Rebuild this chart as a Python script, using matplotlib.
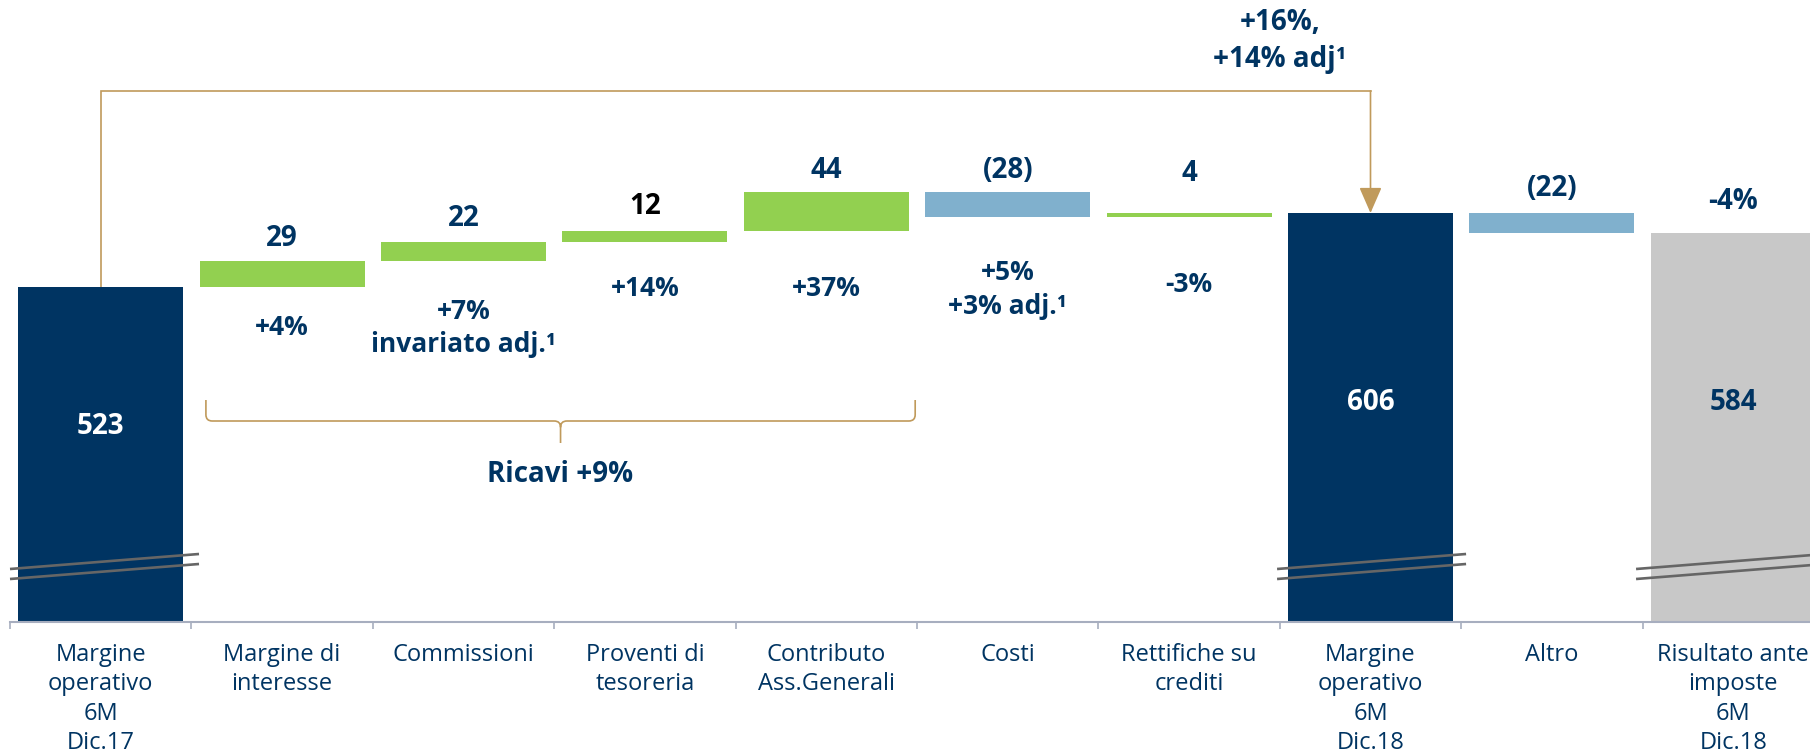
import matplotlib
matplotlib.use("Agg")
import matplotlib.pyplot as plt
from matplotlib.path import Path
from matplotlib.patches import PathPatch
import numpy as np

# ---------------- data ----------------
categories = [
    "Margine\noperativo\n6M\nDic.17",
    "Margine di\ninteresse",
    "Commissioni",
    "Proventi di\ntesoreria",
    "Contributo\nAss.Generali",
    "Costi",
    "Rettifiche su\ncrediti",
    "Margine\noperativo\n6M\nDic.18",
    "Altro",
    "Risultato ante\nimposte\n6M\nDic.18",
]
values = [523, 29, 22, 12, 44, -28, 4, 606, -22, 584]
is_total = [True, False, False, False, False, False, False, True, False, True]
value_labels = ["523", "29", "22", "12", "44", "(28)", "4", "606", "(22)", "584"]
growth_labels = [[], ["+4%"], ["+7%", "invariato adj.\u00b9"], ["+14%"], ["+37%"],
                 ["+5%", "+3% adj.\u00b9"], ["-3%"], [], [], []]
final_change = "-4%"
top_growth = ["+16%,", "+14% adj\u00b9"]
brace_label = "Ricavi +9%"

# ---------------- style / layout ----------------
NAVY = "#003462"
GREEN = "#92D050"
LBLUE = "#80B0CD"
GREY = "#C8C8C8"
GOLD = "#C09A5B"
AXIS = "#A7AEBF"
BREAK = "#666666"
FONT = "Open Sans"

W, H = 1810, 752
AX_BOTTOM_PX = 622          # pixel row of the x axis
PX_PER_UNIT = 0.8916
Y0 = 147.3                  # value at the (broken) axis
YTOP = Y0 + AX_BOTTOM_PX / PX_PER_UNIT

def ypx(py):
    """pixel row (from top) -> data value"""
    return Y0 + (AX_BOTTOM_PX - py) / PX_PER_UNIT

PT = 0.72  # points per pixel at dpi=100

fig = plt.figure(figsize=(W / 100, H / 100), dpi=100)
ax = fig.add_axes([10 / W, (H - AX_BOTTOM_PX) / H, 1814 / W, AX_BOTTOM_PX / H])
ax.set_xlim(-0.5, 9.5)
ax.set_ylim(Y0, YTOP)

x = np.arange(len(values))
bottoms, heights, colors = [], [], []
running = 0
for v, tot in zip(values, is_total):
    if tot:
        bottoms.append(0)
        heights.append(v)
        running = v
    else:
        bottoms.append(running if v >= 0 else running + v)
        heights.append(abs(v))
        running += v
for i, (v, tot) in enumerate(zip(values, is_total)):
    if tot:
        colors.append(GREY if i == len(values) - 1 else NAVY)
    else:
        colors.append(GREEN if v >= 0 else LBLUE)

ax.bar(x, heights, bottom=bottoms, width=0.91, color=colors, zorder=2)

# labels above delta bars
above_offset_px = [None, 23, 23, 24, 21, 21, 40, None, 25, 31]
for i in range(len(values)):
    top = bottoms[i] + heights[i]
    if not is_total[i]:
        col = "black" if value_labels[i] == "12" else NAVY
        ax.annotate(value_labels[i], (x[i], top), xytext=(0, above_offset_px[i] * PT),
                    textcoords="offset points", ha="center", va="center",
                    fontsize=20, fontweight="bold", color=col, family=FONT)
# final change above last bar
ax.annotate(final_change, (x[9], bottoms[9] + heights[9]), xytext=(0, above_offset_px[9] * PT),
            textcoords="offset points", ha="center", va="center",
            fontsize=20, fontweight="bold", color=NAVY, family=FONT)

# labels inside total bars
inside_px = {0: 427, 7: 402, 9: 402}
for i, py in inside_px.items():
    ax.text(x[i], ypx(py), value_labels[i], ha="center", va="center", fontsize=20,
            fontweight="bold", color=(NAVY if i == 9 else "white"), family=FONT, zorder=3)

# growth labels below delta bars
growth_px = [[], [327], [311, 344], [288], [288], [273, 306], [285], [], [], []]
for i, lines in enumerate(growth_labels):
    for txt, py in zip(lines, growth_px[i]):
        ax.text(x[i], ypx(py), txt, ha="center", va="center", fontsize=19,
                fontweight="bold", color=NAVY, family=FONT)

# connector from first total to second total
yline = ypx(91)
ax.plot([x[0], x[0], x[7]], [values[0], yline, yline], color=GOLD, lw=1.2,
        solid_joinstyle="miter", zorder=1)
ax.annotate("", xy=(x[7], values[7]), xytext=(x[7], yline),
            arrowprops=dict(arrowstyle="-|>,head_length=0.8,head_width=0.35", color=GOLD,
                            lw=1.2, shrinkA=0, shrinkB=0, mutation_scale=20))
for txt, py in zip(top_growth, [23, 59]):
    ax.text(6.5, ypx(py), txt, ha="center", va="center", fontsize=20,
            fontweight="bold", color=NAVY, family=FONT, clip_on=False)

# brace under revenues
bx0, bx1 = 0.58, 4.49
bxc = (bx0 + bx1) / 2
r = 0.035
yt, yh, ytip = ypx(400), ypx(421), ypx(443)
dy = (yt - yh) * 0.3
verts = [
    (bx0, yt), (bx0, yh + dy), (bx0, yh), (bx0 + r, yh), (bxc - r, yh), (bxc, yh), (bxc, yh - dy),
    (bxc, ytip),
    (bxc, yh - dy), (bxc, yh), (bxc + r, yh), (bx1 - r, yh), (bx1, yh), (bx1, yh + dy), (bx1, yt),
]
codes = [Path.MOVETO, Path.LINETO, Path.CURVE3, Path.CURVE3, Path.LINETO, Path.CURVE3, Path.CURVE3,
         Path.LINETO,
         Path.MOVETO, Path.CURVE3, Path.CURVE3, Path.LINETO, Path.CURVE3, Path.CURVE3, Path.LINETO]
ax.add_patch(PathPatch(Path(verts, codes), fill=False, edgecolor=GOLD, lw=1.2))
ax.text(bxc, ypx(475), brace_label, ha="center", va="center", fontsize=20,
        fontweight="bold", color=NAVY, family=FONT)

# axis-break marks on the total bars
span = 189 / 181.4
for xs in [-0.5, 6.485, 8.464]:
    for py in [569, 579]:
        ax.plot([xs, xs + span], [ypx(py), ypx(py - 15)], color=BREAK, lw=1.9,
                zorder=4, solid_capstyle="butt", clip_on=False)

# axes styling
for s in ["left", "right", "top"]:
    ax.spines[s].set_visible(False)
ax.spines["bottom"].set_color(AXIS)
ax.spines["bottom"].set_linewidth(1.5)
ax.set_yticks([])
ax.set_xticks(x)
ax.set_xticklabels(categories, fontsize=17, color=NAVY, family=FONT, linespacing=1.3)
ax.set_xticks(np.arange(-0.5, 10, 1), minor=True)
ax.tick_params(axis="x", which="major", length=0, pad=15)
ax.tick_params(axis="x", which="minor", length=5, width=1.2, color=AXIS, direction="out")

fig.savefig("out.png", dpi=100)
